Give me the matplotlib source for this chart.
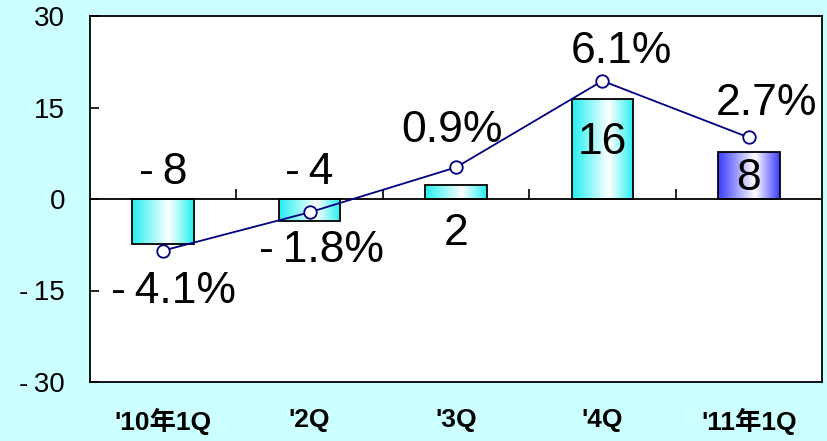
import numpy as np
import matplotlib.pyplot as plt
from matplotlib.colors import LinearSegmentedColormap

plt.rcParams['font.family'] = ['Liberation Sans', 'Noto Sans CJK JP', 'DejaVu Sans']

quarters = ["'10年1Q", "'2Q", "'3Q", "'4Q", "'11年1Q"]
bar_values = [-7.4, -3.6, 2.3, 16.4, 7.7]
bar_labels = ["-\u20098", "-\u20094", "2", "16", "8"]
growth = [-4.1, -1.8, 0.9, 6.1, 2.7]
growth_labels = ["-\u20094.1%", "-\u20091.8%", "0.9%", "6.1%", "2.7%"]

bg = "#ccffff"
cyan = "#22f0f0"
blue = "#3a3aff"
navy = "#000080"

# text anchors in primary-axis units
bar_label_xy = [(0, 4.4), (1, 4.4), (2, -5.6), (3, 9.2), (4, 3.3)]
growth_label_xy = [(0.07, -15.2), (1.08, -8.4), (1.97, 11.3), (3.13, 24.1), (4.12, 15.6)]

fig = plt.figure(figsize=(8.27, 4.41), dpi=100, facecolor=bg)
ax = fig.add_axes([90 / 827, 1 - 382 / 441, 732 / 827, 366 / 441])

x = np.arange(len(quarters))
bars = ax.bar(x, bar_values, width=0.42, facecolor="none", edgecolor="black",
              linewidth=1.3, zorder=3)

grad = np.linspace(0, 1, 256).reshape(1, -1)
for i, b in enumerate(bars):
    col = blue if i == len(bars) - 1 else cyan
    cmap = LinearSegmentedColormap.from_list("g", [(0, col), (0.6, "white"), (1, col)])
    y0, y1 = sorted([b.get_y(), b.get_y() + b.get_height()])
    im = ax.imshow(grad, cmap=cmap, extent=(b.get_x(), b.get_x() + b.get_width(), y0, y1),
                   aspect="auto", zorder=2)
    im.set_clip_path(b)

ax.axhline(0, color="black", lw=1.3, zorder=2.5)
ax.vlines(np.arange(0.5, len(quarters) - 1), 0, 1.6, color="black", lw=1.2, zorder=2.5)

ax.set_xlim(-0.5, len(quarters) - 0.5)
ax.set_ylim(-30, 30)
ax.set_yticks([-30, -15, 0, 15, 30])
ax.set_yticklabels([("-\u2009" if v < 0 else "") + str(abs(v)) for v in [-30, -15, 0, 15, 30]])
ax.set_xticks(x)
ax.set_xticklabels(quarters, fontsize=19, fontweight="bold")
ax.tick_params(axis="x", length=0, pad=19)
ax.tick_params(axis="y", direction="in", length=6.5, width=1.2, labelsize=20, pad=18)
for s in ax.spines.values():
    s.set_linewidth(1.3)

for (tx, ty), t in zip(bar_label_xy, bar_labels):
    ax.text(tx, ty, t, ha="center", va="center", fontsize=32, zorder=5)
for (tx, ty), t in zip(growth_label_xy, growth_labels):
    ax.text(tx, ty, t, ha="center", va="center", fontsize=32, zorder=5)

ax2 = ax.twinx()
ax2.set_ylim(-12, 10)
ax2.plot(x, growth, color=navy, lw=1.3, marker="o", ms=9, mfc="white", mec=navy, mew=1.3)
ax2.set_yticks([])
for s in ax2.spines.values():
    s.set_visible(False)

fig.savefig("out.png", dpi=100, facecolor=bg)
